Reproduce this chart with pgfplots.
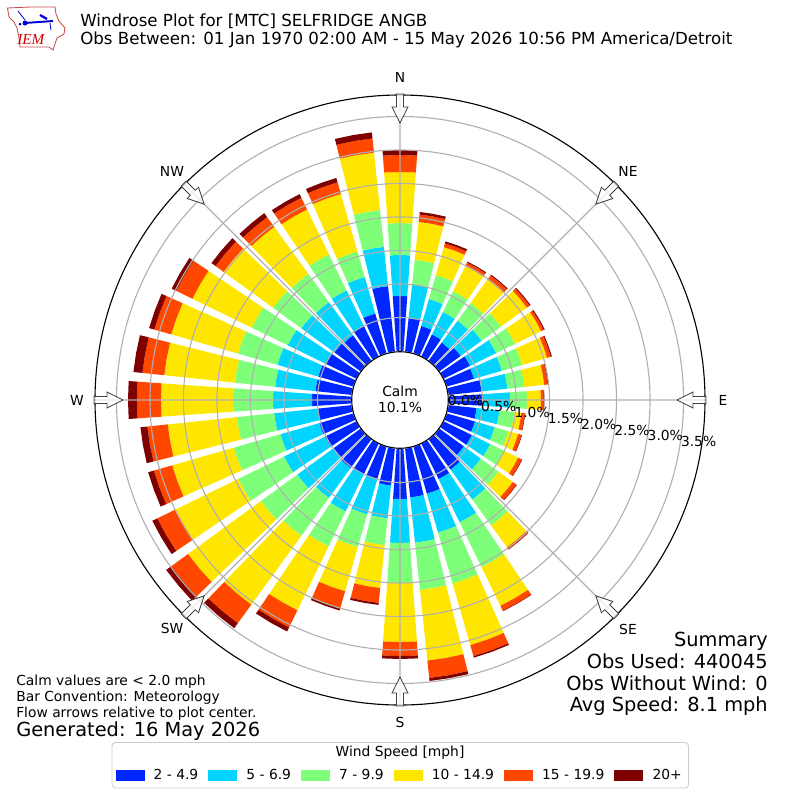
\documentclass[border=0pt]{standalone}
\usepackage{pgfplots}
\usepackage{pgfplotstable}
\usepackage{fontspec}
\pgfplotsset{compat=1.18}
\usepgfplotslibrary{polar}
\setmainfont{DejaVu Sans}
\newfontfamily\iemfont{Liberation Serif}
\definecolor{c1}{HTML}{0026FF}
\definecolor{c2}{HTML}{00D4FF}
\definecolor{c3}{HTML}{7DFF7A}
\definecolor{c4}{HTML}{FFE600}
\definecolor{c5}{HTML}{FF4700}
\definecolor{c6}{HTML}{7F0000}
\definecolor{gridc}{HTML}{B0B0B0}
% cumulative percent frequency of each speed class, by wind direction
\pgfplotstableread{
dir b c g y o m
0 0.821 1.433 1.910 2.672 2.925 3.000
10 0.507 1.000 1.373 1.940 2.052 2.090
20 0.418 0.836 1.209 1.642 1.701 1.731
30 0.358 0.731 1.075 1.493 1.552 1.567
40 0.328 0.731 1.060 1.493 1.567 1.582
50 0.388 0.776 1.134 1.612 1.664 1.679
60 0.433 0.866 1.179 1.612 1.657 1.672
70 0.418 0.851 1.164 1.552 1.612 1.627
80 0.493 0.881 1.134 1.433 1.485 1.493
90 0.493 0.910 1.164 1.373 1.418 1.425
100 0.418 0.761 0.985 1.090 1.142 1.149
110 0.433 0.739 0.955 1.104 1.157 1.164
120 0.463 0.769 1.000 1.231 1.291 1.299
130 0.448 0.761 1.090 1.351 1.418 1.425
140 0.552 1.104 1.582 1.985 2.022 2.027
150 0.582 1.299 2.045 2.687 2.769 2.776
160 0.724 1.328 2.119 3.075 3.246 3.269
170 0.731 1.410 2.119 3.179 3.440 3.485
180 0.746 1.403 2.000 2.881 3.090 3.134
190 0.552 1.045 1.448 2.090 2.313 2.343
200 0.493 1.045 1.552 2.239 2.507 2.537
210 0.507 1.119 1.701 2.761 3.045 3.112
220 0.522 1.075 1.776 3.045 3.388 3.478
230 0.493 1.164 1.836 3.179 3.493 3.582
240 0.515 1.194 1.955 3.000 3.299 3.381
250 0.522 1.127 1.851 2.806 3.090 3.179
260 0.507 1.157 1.716 2.754 3.060 3.164
270 0.582 1.164 1.761 2.836 3.194 3.328
280 0.537 1.142 1.746 2.806 3.134 3.269
290 0.537 1.173 1.785 2.821 3.084 3.164
300 0.507 1.134 1.731 2.716 2.985 3.060
310 0.478 1.090 1.612 2.522 2.672 2.746
320 0.463 1.075 1.597 2.463 2.642 2.716
330 0.493 1.090 1.687 2.433 2.627 2.687
340 0.612 1.179 1.575 2.470 2.649 2.716
350 0.978 1.567 2.119 2.981 3.194 3.284
}\windtable
\def\rz{0.7313}
\newcommand\seg[2]{%
  \pgfplotstablegetelem{\row}{#1}\of\windtable
  \pgfmathsetmacro\hi{\pgfplotsretval+\rz}%
  \edef\doit{\noexpand\addplot[fill=#2,draw=none,no markers,forget plot] coordinates {(\ta,\lo)(\tm,\lo)(\tb,\lo)(\tb,\hi)(\tm,\hi)(\ta,\hi)} -- cycle;}%
  \doit
  \let\lo\hi
}
\newcommand\sz[1]{\fontsize{#1}{#1}\selectfont}
\begin{document}
\begin{tikzpicture}[x=0.72bp,y=-0.72bp]
\path[use as bounding box] (0,0) rectangle (800,800);
\coordinate (cc) at (400,400);
% legend frame
\draw[draw=black!20,line width=0.6bp,rounded corners=2.5bp,fill=white] (112,742.5) rectangle (688.5,788);
\begin{polaraxis}[
  at={(cc)},anchor=center,
  scale only axis,width=439.2bp,height=439.2bp,
  xmin=0,xmax=360,ymin=0,ymax=4.552,
  xtick={0,45,...,315},
  ytick={1.2313,1.7313,2.2313,2.7313,3.2313,3.7313,4.2313},
  xticklabels={},yticklabels={},
  major tick length=0pt,
  grid=major,
  grid style={draw=gridc,line width=0.8bp},
  separate axis lines,
  x axis line style={line width=0.8bp,black},
  y axis line style={draw=none},
  axis on top,
  clip=false,
  legend columns=6,
  legend cell align=left,
  legend style={at={(0.5,-0.1155)},anchor=center,draw=none,fill=none,inner sep=0pt,
    font=\sz{10},
    /tikz/every even column/.append style={column sep=5.16bp},
    /tikz/every odd column/.append style={column sep=4.9bp}},
  legend image code/.code={\fill[#1] (0bp,-3.6bp) rectangle (20.2bp,3.6bp);},
]
\pgfplotsforeachungrouped \row in {0,...,35}{%
  \pgfplotstablegetelem{\row}{dir}\of\windtable
  \let\dd\pgfplotsretval
  \pgfmathsetmacro\ta{90-\dd-4}%
  \pgfmathsetmacro\tm{90-\dd}%
  \pgfmathsetmacro\tb{90-\dd+4}%
  \let\lo\rz
  \seg{b}{c1}\seg{c}{c2}\seg{g}{c3}\seg{y}{c4}\seg{o}{c5}\seg{m}{c6}%
}
\addlegendimage{c1}\addlegendentry{2 - 4.9}
\addlegendimage{c2}\addlegendentry{5 - 6.9}
\addlegendimage{c3}\addlegendentry{7 - 9.9}
\addlegendimage{c4}\addlegendentry{10 - 14.9}
\addlegendimage{c5}\addlegendentry{15 - 19.9}
\addlegendimage{c6}\addlegendentry{20+}
\end{polaraxis}
% flow arrows
\foreach \a in {0,45,...,315}{
  \begin{scope}[shift={(400,400)},rotate=\a]
  \draw[draw=black!75,line width=0.6bp,fill=white,fill opacity=0.75]
    (277,0)--(293,8)--(293,3.5)--(306,3.5)--(306,-3.5)--(293,-3.5)--(293,-8)--cycle;
  \end{scope}
}
% calm circle
\draw[fill=white,draw=black,line width=0.8bp] (400,400) circle [x radius=48.3,y radius=48.3];
\node[font=\sz{10},inner sep=0pt] at (400,391.5) {Calm};
\node[font=\sz{10},inner sep=0pt] at (400,407.5) {10.1\%};
% direction labels
\foreach \t/\x/\y in {N/400/77,NE/628/171,E/723/400,SE/628/629,S/400/722,SW/172/628,W/77/400,NW/172/171}
  \node[font=\sz{10},inner sep=0pt] at (\x,\y) {\t};
% radial labels
\foreach \t/\x/\y in {0.0/465.5/400.5,0.5/498.8/406.4,1.0/532.1/412.3,1.5/565.4/418.2,2.0/598.7/424.1,2.5/632/430,3.0/665.3/435.9,3.5/698.6/441.8}
  \node[font=\sz{10},inner sep=0pt] at (\x,\y) {\t\%};
% titles
\node[anchor=base west,font=\sz{12.03},inner sep=0pt] at (80,26) {Windrose Plot for [MTC] SELFRIDGE ANGB};
\node[anchor=base west,font=\sz{12.03},inner sep=0pt] at (80,44) {Obs Between: 01 Jan 1970 02:00 AM - 15 May 2026 10:56 PM America/Detroit};
% notes
\node[anchor=base west,font=\sz{10},inner sep=0pt] at (16,685) {Calm values are < 2.0 mph};
\node[anchor=base west,font=\sz{10},inner sep=0pt] at (16,701) {Bar Convention: Meteorology};
\node[anchor=base west,font=\sz{10},inner sep=0pt] at (16,717) {Flow arrows relative to plot center.};
\node[anchor=base west,font=\sz{14},inner sep=0pt] at (16,736) {Generated: 16 May 2026};
% summary
\node[anchor=base east,font=\sz{14},inner sep=0pt] at (768,646) {Summary};
\node[anchor=base east,font=\sz{14},inner sep=0pt] at (768,668) {Obs Used: 440045};
\node[anchor=base east,font=\sz{14},inner sep=0pt] at (768,690) {Obs Without Wind: 0};
\node[anchor=base east,font=\sz{14},inner sep=0pt] at (768,711) {Avg Speed: 8.1 mph};
\node[font=\sz{10},inner sep=0pt] at (400,753) {Wind Speed [mph]};
% logo
\draw[draw=red!70!black!70,line width=0.6bp,fill=white]
  (7.5,8)--(30,7)--(55,7)--(56,14)--(59,21)--(65,28)--(64,34)--(57,38)--(55,44)--(53,50)--(49,47)--(20,47)--(19,38)--(17,28)--(14,22)--(9,17)--cycle;
\draw[blue!85!black,line width=1.4bp] (25,23)--(53,21);
\fill[blue!85!black] (25,23) circle [x radius=2.5,y radius=2.5];
\draw[blue!85!black,line width=1.6pt] (40,15)--(47,19);
\draw[blue!85!black,line width=0.6pt] (18,11)--(25,20) (50,23)--(51,30);
\fill[blue!85!black] (20,24) circle [x radius=1.5,y radius=1.5];
\node[anchor=base west,font=\iemfont\itshape\sz{11},text=red!80!black,inner sep=0pt] at (17,44) {IEM};
\end{tikzpicture}
\end{document}
